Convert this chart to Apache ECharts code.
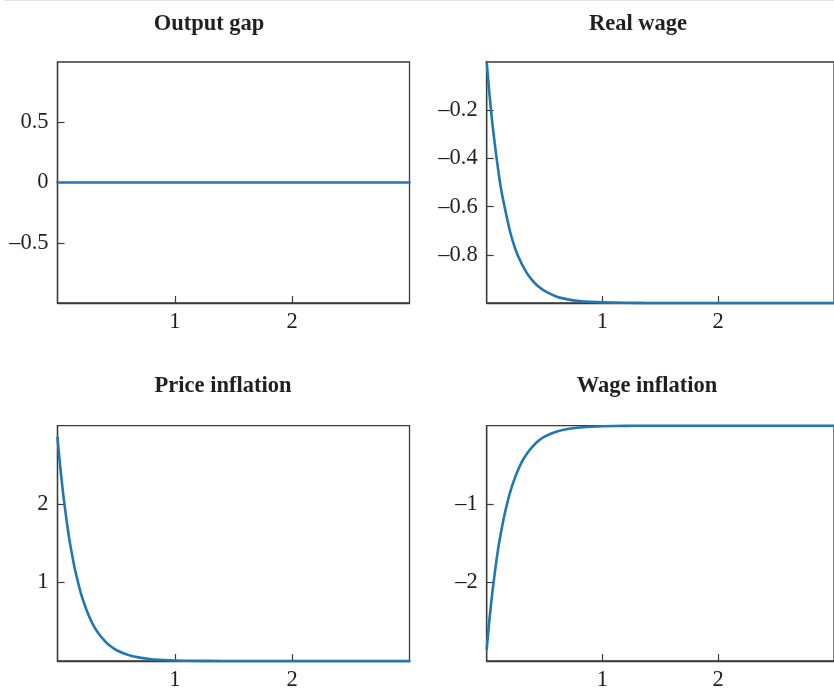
<!DOCTYPE html>
<html>
<head>
<meta charset="utf-8">
<script src="https://cdn.jsdelivr.net/npm/echarts@6/dist/echarts.min.js"></script>
<style>
  html, body { margin: 0; padding: 0; background: #fff; }
  #chart { width: 834px; height: 692px; }
</style>
</head>
<body>
<div id="chart"></div>
<script>
// Time grid (shared by all four responses)
const time = [0, 0.025, 0.05, 0.075, 0.1, 0.125, 0.15, 0.2, 0.25, 0.3, 0.35, 0.4, 0.45, 0.5,
              0.6, 0.7, 0.8, 0.9, 1.0, 1.2, 1.4, 1.6, 2.0, 2.5, 3.0];

// Impulse responses
const outputGap      = [0, 0, 0, 0, 0, 0, 0, 0, 0, 0, 0, 0, 0, 0, 0, 0, 0, 0, 0, 0, 0, 0, 0, 0, 0];
const realWage       = [0, -0.14, -0.26, -0.36, -0.45, -0.53, -0.59, -0.70, -0.78, -0.835, -0.878, -0.909, -0.933, -0.95,
                        -0.973, -0.985, -0.992, -0.9955, -0.9975, -0.9992, -0.9998, -1, -1, -1, -1];
const priceInflation = [2.85, 2.45, 2.11, 1.82, 1.56, 1.35, 1.16, 0.86, 0.64, 0.47, 0.35, 0.26, 0.19, 0.14,
                        0.078, 0.043, 0.023, 0.013, 0.007, 0.002, 0.0006, 0, 0, 0, 0];
const wageInflation  = [-2.85, -2.45, -2.11, -1.82, -1.56, -1.35, -1.16, -0.86, -0.64, -0.47, -0.35, -0.26, -0.19, -0.14,
                        -0.078, -0.043, -0.023, -0.013, -0.007, -0.002, -0.0006, 0, 0, 0, 0];

// Panel titles and tick positions
const titles = ['Output gap', 'Real wage', 'Price inflation', 'Wage inflation'];
const xTicks = [1, 2];
const yTicksOutput = [-0.5, 0, 0.5];
const yTicksReal   = [-0.8, -0.6, -0.4, -0.2];
const yTicksPrice  = [1, 2];
const yTicksWage   = [-2, -1];

const panels = [
  { title: titles[0], data: outputGap,      yMin: -1, yMax: 1, yTicks: yTicksOutput, left: 57.5,  top: 62,    height: 241, titleX: 209, titleY: 13 },
  { title: titles[1], data: realWage,       yMin: -1, yMax: 0, yTicks: yTicksReal,   left: 486.7, top: 62,    height: 241, titleX: 638, titleY: 13 },
  { title: titles[2], data: priceInflation, yMin: 0,  yMax: 3, yTicks: yTicksPrice,  left: 57.5,  top: 425.7, height: 240, titleX: 223, titleY: 375 },
  { title: titles[3], data: wageInflation,  yMin: -3, yMax: 0, yTicks: yTicksWage,   left: 486.7, top: 425.7, height: 240, titleX: 647, titleY: 375 }
];

const FONT = '"Liberation Serif", "Times New Roman", serif';
const INK = '#231f20';
const AXIS = '#3a3a3a';
const LINE = '#1f77b4';

const fmt = v => (v < 0 ? '\u2013' + String(Math.abs(v)) : String(v));

const option = {
  animation: false,
  backgroundColor: '#fff',
  title: panels.map(p => ({
    text: p.title,
    left: p.titleX,
    top: p.titleY,
    textAlign: 'center',
    padding: 0,
    textStyle: { fontFamily: FONT, fontWeight: 'bold', fontSize: 22.5, color: INK }
  })),
  grid: panels.map(p => ({
    left: p.left, top: p.top, width: 352, height: p.height,
    show: true, borderColor: AXIS, borderWidth: 1.3, backgroundColor: 'transparent'
  })),
  xAxis: panels.map((p, i) => ({
    type: 'value', gridIndex: i, min: 0, max: 3,
    axisLine: { show: true, onZero: false, lineStyle: { color: AXIS, width: 1.3 } },
    axisTick: { show: true, inside: true, length: 7, customValues: xTicks, lineStyle: { color: AXIS, width: 1.2 } },
    axisLabel: { show: true, customValues: xTicks, margin: 8, formatter: fmt,
                 fontFamily: FONT, fontSize: 22.5, color: INK },
    splitLine: { show: false }
  })),
  yAxis: panels.map((p, i) => ({
    type: 'value', gridIndex: i, min: p.yMin, max: p.yMax,
    axisLine: { show: true, onZero: false, lineStyle: { color: AXIS, width: 1.3 } },
    axisTick: { show: true, inside: true, length: 7, customValues: p.yTicks, lineStyle: { color: AXIS, width: 1.2 } },
    axisLabel: { show: true, customValues: p.yTicks, margin: 9, formatter: fmt,
                 fontFamily: FONT, fontSize: 22.5, color: INK },
    splitLine: { show: false }
  })),
  series: panels.map((p, i) => ({
    type: 'line', xAxisIndex: i, yAxisIndex: i,
    data: time.map((t, k) => [t, p.data[k]]),
    smooth: 0.25, showSymbol: false, clip: false,
    lineStyle: { color: LINE, width: 2.6, join: 'round', cap: 'round' }
  })),
  graphic: [{
    type: 'line', shape: { x1: 4, y1: 0.5, x2: 834, y2: 0.5 },
    style: { stroke: '#e3e3e3', lineWidth: 1 }, silent: true
  }]
};

const chart = echarts.init(document.getElementById('chart'), null, { renderer: 'canvas' });
chart.setOption(option);
</script>
</body>
</html>
